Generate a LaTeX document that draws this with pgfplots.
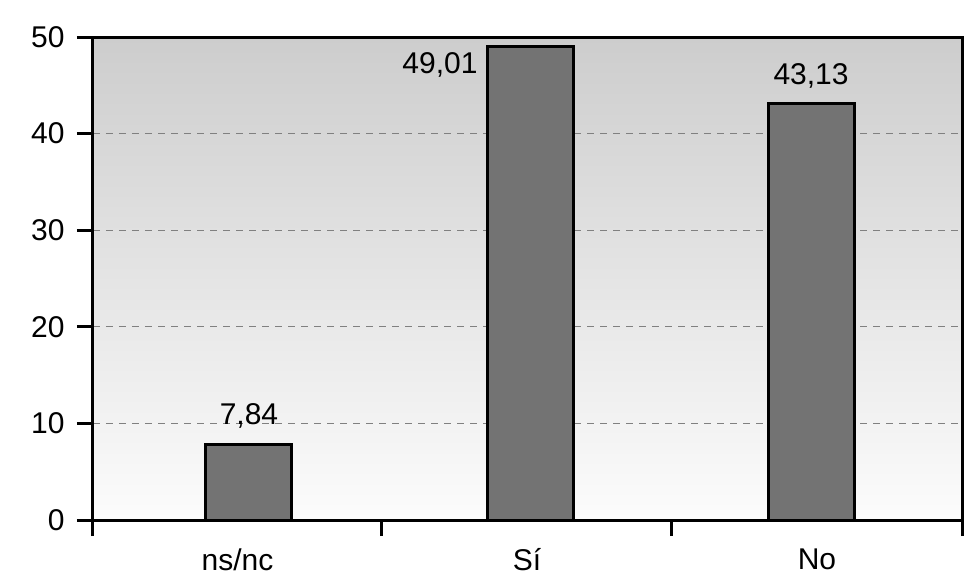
\documentclass[border=0pt]{standalone}
\usepackage{fontspec}
\setmainfont{Liberation Sans}
\usepackage{pgfplots}
\pgfplotsset{compat=1.18}

\definecolor{barfill}{HTML}{737373}
\definecolor{bgtop}{HTML}{CDCDCD}
\definecolor{bgbot}{HTML}{FCFCFC}
\definecolor{gridc}{HTML}{808080}

\begin{document}
\fontsize{15}{18}\selectfont
\begin{tikzpicture}
\useasboundingbox (-46.5pt,-30pt) rectangle (443.5pt,260pt);
\begin{axis}[
    scale only axis,
    width=434.5pt, height=241.5pt,
    xmin=-0.555, xmax=2.537,
    ymin=0, ymax=50,
    ytick={0,10,...,50},
    xtick={-0.555,0.473,1.505,2.537},
    x tick label as interval,
    xticklabels={ns/nc,Sí,No},
    xtick pos=bottom, ytick pos=left,
    major tick length=8pt,
    tick align=outside,
    tick style={line width=1.5pt, black},
    ymajorgrids,
    major grid style={dash pattern=on 3.5pt off 3pt, gridc, line width=0.5pt},
    axis line style={line width=1.5pt},
    axis background/.style={top color=bgtop, bottom color=bgbot},
    tick label style={font=\fontsize{15}{18}\selectfont},
    /pgf/number format/assume math mode=true,
    yticklabel style={xshift=-1pt},
    xticklabel style={yshift=-1pt},
    ybar, bar width=43pt,
    nodes near coords,
    point meta=explicit symbolic,
    visualization depends on={value \thisrow{dx} \as \dx},
    visualization depends on={value \thisrow{dy} \as \dy},
    every node near coord/.append style={font=\fontsize{15}{18}\selectfont,
        xshift=\dx pt, yshift=\dy pt},
]
\addplot[fill=barfill, draw=black, line width=1.5pt] table[meta=lab] {
x y lab dx dy
0 7.84 {7,84} 0 2
1 49.01 {49,01} -45 -21
2 43.13 {43,13} 0 2
};
\end{axis}
\end{tikzpicture}
\end{document}
